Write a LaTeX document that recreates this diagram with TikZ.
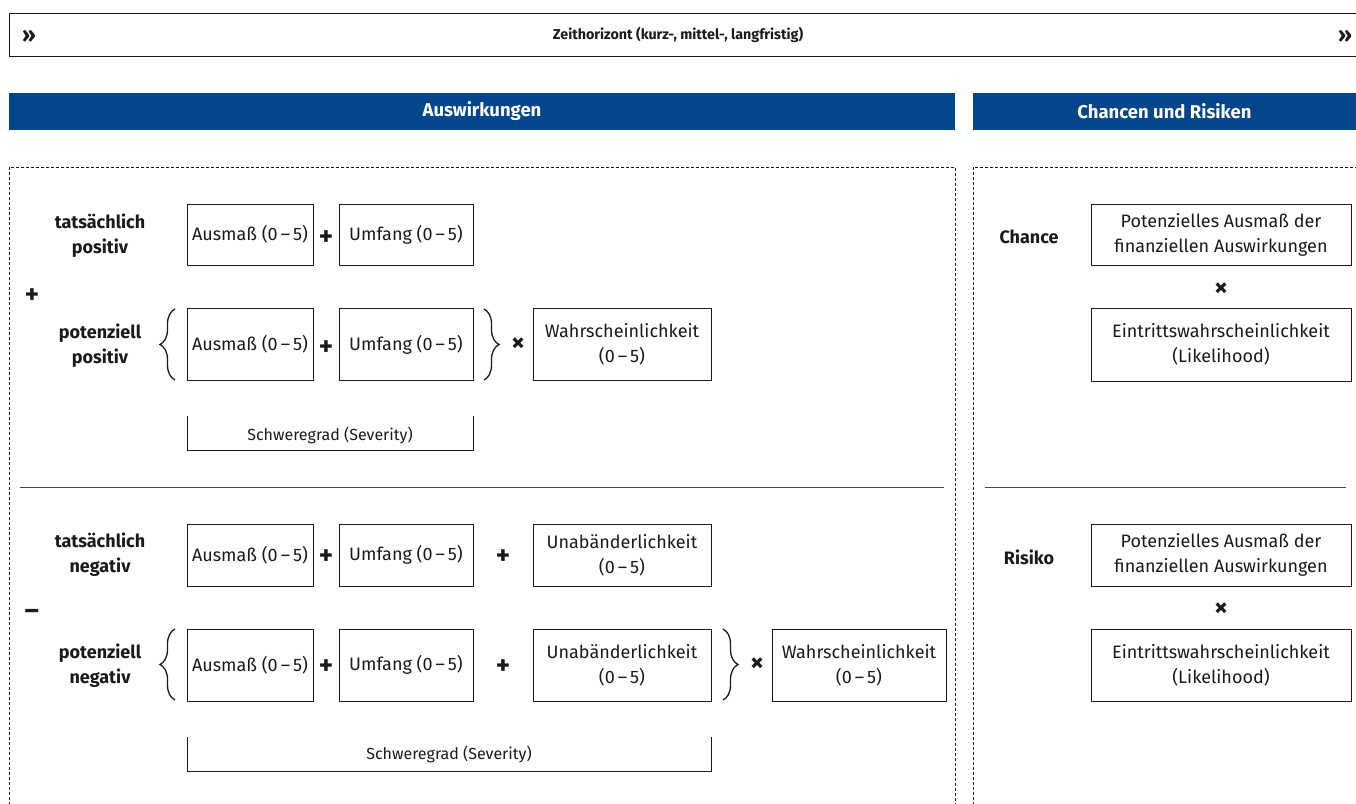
\documentclass[tikz,border=0pt]{standalone}
\usepackage{fontspec}
\setmainfont{Fira Sans}
\usetikzlibrary{decorations.pathreplacing}
\definecolor{hdrblue}{HTML}{03468B}
\definecolor{txt}{HTML}{1A1A1A}
\tikzset{
  x=1pt, y=-1pt,
  valbox/.style={draw=txt, line width=0.9pt, inner sep=0pt, align=center, text=txt, font=\fontsize{18}{25}\selectfont},
  lbl/.style={align=center, text=txt, font=\bfseries\fontsize{18}{25}\selectfont},
  op/.style={text=txt, font=\bfseries\fontsize{27}{27}\selectfont, inner sep=0pt},
  hdr/.style={fill=hdrblue, text=white, font=\bfseries\fontsize{18.5}{20}\selectfont, inner sep=0pt},
  dashedframe/.style={draw=txt, line width=0.7pt, dash pattern=on 3pt off 2pt},
  sep/.style={draw=txt!80, line width=0.8pt},
  bracebrace/.style={draw=txt, line width=1.3pt, decorate, decoration={brace, amplitude=15pt, aspect=0.5}},
  sev/.style={text=txt, font=\fontsize{16}{18}\selectfont},
  chev/.style={text=txt, font=\bfseries\fontsize{22}{22}\selectfont, inner sep=0pt},
}
\begin{document}
\begin{tikzpicture}
\useasboundingbox (0,0) rectangle (1356,803);
% top timeline
\draw[txt, line width=0.9pt] (1356,13) -- (9,13) -- (9,56) -- (1356,56);
\node[text=txt, font=\bfseries\fontsize{14.3}{16}\selectfont] (zeit) at (678,35) {Zeithorizont (kurz-, mittel-, langfristig)};
\node[chev] (arrL) at (29,36) {››};
\node[chev] (arrR) at (1345,36) {››};
% headers
\node[hdr, minimum width=946pt, minimum height=37pt] (hAus) at (482,111.5) {Auswirkungen};
\node[hdr, minimum width=383pt, minimum height=37pt] (hCR) at (1164.5,111.5) {Chancen und Risiken};
% dashed frames
\draw[dashedframe] (9,805) -- (9,167) -- (955,167) -- (955,805);
\draw[dashedframe] (973,805) -- (973,167) -- (1358,167);
% separators
\draw[sep] (20,487) -- (944,487);
\draw[sep] (985,487) -- (1346,487);

% ---- positive section
\node[lbl] (tp) at (100,236) {tatsächlich\\positiv};
\node[op] (plusP) at (32,296) {+};
\node[lbl] (pp) at (100,346) {potenziell\\positiv};

\node[valbox, minimum width=126pt, minimum height=61pt] (a1) at (250,234.5) {Ausmaß (0\,–\,5)};
\node[op] (p1) at (326,238) {+};
\node[valbox, minimum width=134pt, minimum height=61pt] (u1) at (406,234.5) {Umfang (0\,–\,5)};

\node[valbox, minimum width=126pt, minimum height=72pt] (a2) at (250,344.5) {Ausmaß (0\,–\,5)};
\node[op] (p2) at (326,348) {+};
\node[valbox, minimum width=134pt, minimum height=72pt] (u2) at (406,344.5) {Umfang (0\,–\,5)};
\node[op] (x1) at (518,345) {×};
\node[valbox, minimum width=178pt, minimum height=72pt] (w1) at (622,344.5) {Wahrscheinlichkeit\\(0\,–\,5)};
\draw[bracebrace] (175,380) -- (175,309);
\draw[bracebrace] (484,309) -- (484,380);

\draw[txt, line width=0.9pt] (187,416) -- (187,450) -- (473,450) -- (473,416);
\node[sev] (sev1) at (330,435) {Schweregrad (Severity)};

% ---- negative section
\node[lbl] (tn) at (100,555) {tatsächlich\\negativ};
\node[op] (minusN) at (32,614) {–};
\node[lbl] (pn) at (100,666) {potenziell\\negativ};

\node[valbox, minimum width=126pt, minimum height=62pt] (a3) at (250,555) {Ausmaß (0\,–\,5)};
\node[op] (p3) at (326,557) {+};
\node[valbox, minimum width=134pt, minimum height=62pt] (u3) at (406,555) {Umfang (0\,–\,5)};
\node[op] (p4) at (503,557) {+};
\node[valbox, minimum width=178pt, minimum height=62pt] (ub1) at (622,555) {Unabänderlichkeit\\(0\,–\,5)};

\node[valbox, minimum width=126pt, minimum height=72pt] (a4) at (250,665) {Ausmaß (0\,–\,5)};
\node[op] (p5) at (326,667) {+};
\node[valbox, minimum width=134pt, minimum height=72pt] (u4) at (406,665) {Umfang (0\,–\,5)};
\node[op] (p6) at (503,667) {+};
\node[valbox, minimum width=178pt, minimum height=72pt] (ub2) at (622,665) {Unabänderlichkeit\\(0\,–\,5)};
\node[op] (x2) at (757,665) {×};
\node[valbox, minimum width=174pt, minimum height=72pt] (w2) at (859,665) {Wahrscheinlichkeit\\(0\,–\,5)};
\draw[bracebrace] (175,700) -- (175,629);
\draw[bracebrace] (723,629) -- (723,700);

\draw[txt, line width=0.9pt] (187,737) -- (187,771) -- (711,771) -- (711,737);
\node[sev] (sev2) at (449,754) {Schweregrad (Severity)};

% ---- right side
\node[lbl] (ch) at (1029,237) {Chance};
\node[valbox, minimum width=260pt, minimum height=61pt] (cp) at (1221,234.5) {Potenzielles Ausmaß der\\finanziellen Auswirkungen};
\node[op] (cx) at (1221,290) {×};
\node[valbox, minimum width=260pt, minimum height=73pt] (ce) at (1221,344.5) {Eintrittswahrscheinlichkeit\\(Likelihood)};

\node[lbl] (ri) at (1029,557) {Risiko};
\node[valbox, minimum width=260pt, minimum height=62pt] (rp) at (1221,555) {Potenzielles Ausmaß der\\finanziellen Auswirkungen};
\node[op] (rx) at (1221,610) {×};
\node[valbox, minimum width=260pt, minimum height=72pt] (re) at (1221,665) {Eintrittswahrscheinlichkeit\\(Likelihood)};
\end{tikzpicture}
\end{document}
